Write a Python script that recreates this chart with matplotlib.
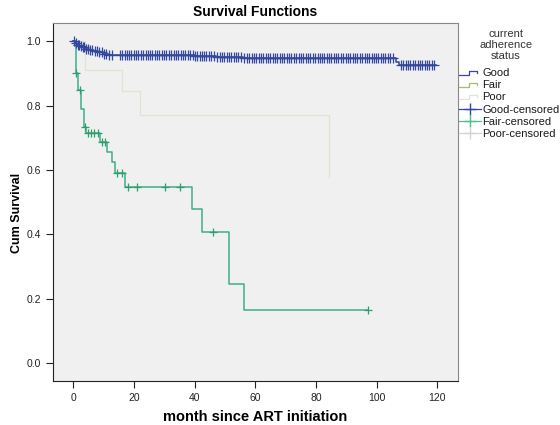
import numpy as np
import matplotlib.pyplot as plt
from matplotlib.lines import Line2D
from matplotlib.legend_handler import HandlerLine2D

plt.rcParams['font.family'] = ['Liberation Sans', 'DejaVu Sans']

# Kaplan-Meier steps per adherence group (months, cumulative survival)
good_t = [0, 0.6, 1.2, 2.0, 3.0, 4.0, 5.2, 6.5, 8.0, 9.8, 11.5, 28.0, 40.0, 47.0, 56.0, 106.3, 107.2, 119.5]
good_s = [1.0, 0.994, 0.99, 0.986, 0.982, 0.978, 0.974, 0.97, 0.966, 0.962, 0.959, 0.957, 0.954, 0.951, 0.948, 0.937, 0.928, 0.928]
good_cens = [0.3, 0.8, 1.4, 1.9, 2.5, 3.1, 3.6, 4.3, 4.9, 5.6, 6.3, 7.1, 7.8, 8.6, 9.3, 10.1, 10.9, 11.8, 12.6,
             15.3, 16.1, 16.9, 17.6, 18.3, 19.1, 19.9, 20.7, 21.4, 22.2, 23.0, 23.8, 24.5, 25.3, 26.1, 26.9,
             27.6, 28.4, 29.2, 30.0, 30.7, 31.5, 32.3, 33.1, 33.8, 34.6, 35.4, 36.2, 36.9, 37.7, 38.5, 39.3,
             40.1, 40.8, 41.6, 42.4, 43.2, 43.9, 44.7, 45.5, 46.3, 47.5, 48.2, 49.0, 49.8, 50.6, 51.3, 52.1,
             52.9, 53.7, 54.4, 55.2, 56.4, 57.2, 58.0, 58.8, 59.5, 60.3, 61.1, 61.9, 62.6, 63.4, 64.2, 65.0,
             65.7, 66.5, 67.3, 68.1, 68.8, 69.6, 70.4, 71.2, 71.9, 72.7, 73.5, 74.3, 75.0, 75.8, 76.6, 77.4,
             78.1, 78.9, 79.7, 80.5, 81.2, 82.0, 82.8, 83.6, 84.3, 85.1, 85.9, 86.7, 87.4, 88.2, 89.0, 89.8,
             90.5, 91.3, 92.1, 92.9, 93.6, 94.4, 95.2, 96.0, 96.7, 97.5, 98.3, 99.1, 99.8, 100.6, 101.4,
             102.2, 102.9, 103.7, 104.5, 105.3, 108.0, 108.8, 109.6, 110.4, 111.1, 111.9, 112.7, 113.5,
             114.2, 115.0, 115.8, 116.6, 117.3, 118.1, 118.9]

fair_t = [0, 0.8, 1.6, 2.7, 3.5, 4.3, 8.8, 11.1, 12.6, 13.7, 17.2, 39.2, 42.3, 51.3, 56.2, 97.2]
fair_s = [1.0, 0.903, 0.849, 0.79, 0.735, 0.714, 0.688, 0.657, 0.626, 0.59, 0.548, 0.478, 0.408, 0.245, 0.165, 0.165]
fair_cens = [1.0, 2.2, 4.0, 4.7, 5.8, 6.9, 8.0, 9.4, 10.4, 14.3, 15.9, 18.1, 21.1, 30.2, 35.2, 46.1, 97.2]

poor_t = [0, 3.8, 16.0, 22.0, 84.2]
poor_s = [1.0, 0.911, 0.845, 0.771, 0.578]

labels = ['Good', 'Fair', 'Poor', 'Good-censored', 'Fair-censored', 'Poor-censored']

blue = '#34479e'
teal = '#3cae8c'
olive = '#a3bd6c'
beige = '#e3e3d2'


def surv_at(t, s, x):
    idx = np.searchsorted(t, x, side='right') - 1
    return np.asarray(s)[idx]


class StepHandler(HandlerLine2D):
    def create_artists(self, legend, orig_handle, xdescent, ydescent, width, height, fontsize, trans):
        x = [0, width * 0.45, width * 0.45, width * 0.8, width * 0.8]
        y = [height * 0.15, height * 0.15, height * 0.7, height * 0.7, height * 0.45]
        ln = Line2D(x, y, color=orig_handle.get_color(), lw=orig_handle.get_linewidth())
        ln.set_transform(trans)
        return [ln]


fig = plt.figure(figsize=(5.6, 4.25), dpi=100)
ax = fig.add_axes([0.0946, 0.1035, 0.7232, 0.8425])
ax.set_facecolor('#f0f0f0')

ax.step(poor_t, poor_s, where='post', color=beige, lw=1.0)
ax.step(fair_t, fair_s, where='post', color=teal, lw=1.1)
ax.step(good_t, good_s, where='post', color=blue, lw=1.1)

ax.plot(fair_cens, surv_at(fair_t, fair_s, fair_cens), '+', color='#2f9f6a', ms=6, mew=0.9)
ax.plot(good_cens, surv_at(good_t, good_s, good_cens), '+', color=blue, ms=7, mew=0.9)

ax.set_xlim(-6.7, 126.8)
ax.set_ylim(-0.056, 1.0575)
ax.set_xticks([0, 20, 40, 60, 80, 100, 120])
ax.set_yticks([0.0, 0.2, 0.4, 0.6, 0.8, 1.0])
ax.set_yticklabels(['0.0', '0.2', '0.4', '0.6', '0.8', '1.0'])
ax.tick_params(direction='out', length=5, width=0.8, labelsize=7.5, colors='#222222')
for side in ['left', 'bottom']:
    ax.spines[side].set_color('#222222')
for side in ['top', 'right']:
    ax.spines[side].set_color('#888888')

ax.set_title('Survival Functions', fontsize=10, fontweight='bold', pad=5)
ax.set_xlabel('month since ART initiation', fontsize=10.5, fontweight='bold', labelpad=5)
ax.set_ylabel('Cum Survival', fontsize=9, fontweight='bold')
ax.yaxis.set_label_coords(-0.075, 0.47)

handles = [
    Line2D([], [], color=blue, lw=0.9),
    Line2D([], [], color=olive, lw=0.9),
    Line2D([], [], color=beige, lw=0.9),
    Line2D([], [], color=blue, marker='+', lw=0.9, ms=8),
    Line2D([], [], color='#4cc08a', marker='+', lw=0.9, ms=8),
    Line2D([], [], color='#d4d4d4', marker='+', lw=0.9, ms=8),
]
step_h = StepHandler()
fig.text(0.903, 1 - 29 / 425, 'current\nadherence\nstatus', ha='center', va='top',
         fontsize=8, linespacing=1.12, color='#333333')
fig.legend(handles, labels, loc='upper left', bbox_to_anchor=(0.82, 1 - 68 / 425),
           frameon=False, fontsize=8, handlelength=2.0, handletextpad=0.1,
           labelspacing=0.2, borderpad=0, borderaxespad=0, labelcolor='#1a1a1a',
           handler_map={handles[0]: step_h, handles[1]: step_h, handles[2]: step_h})

fig.savefig('out.png', dpi=100)
